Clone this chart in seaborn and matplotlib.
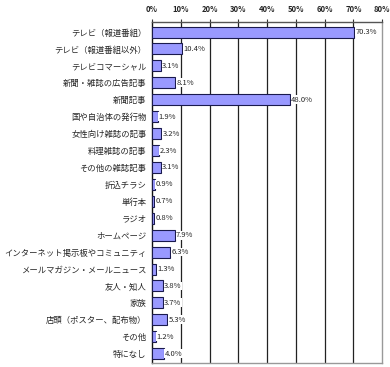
import matplotlib
matplotlib.use("Agg")
import matplotlib.pyplot as plt
import seaborn as sns
import pandas as pd

# データ
categories = [
    "テレビ（報道番組）", "テレビ（報道番組以外）", "テレビコマーシャル",
    "新聞・雑誌の広告記事", "新聞記事", "国や自治体の発行物",
    "女性向け雑誌の記事", "料理雑誌の記事", "その他の雑誌記事",
    "折込チラシ", "単行本", "ラジオ", "ホームページ",
    "インターネット掲示板やコミュニティ", "メールマガジン・メールニュース",
    "友人・知人", "家族", "店頭（ポスター、配布物）", "その他", "特になし",
]
values = [70.3, 10.4, 3.1, 8.1, 48.0, 1.9, 3.2, 2.3, 3.1, 0.9,
          0.7, 0.8, 7.9, 6.3, 1.3, 3.8, 3.7, 5.3, 1.2, 4.0]
ticks = [0, 10, 20, 30, 40, 50, 60, 70, 80]

df = pd.DataFrame({"media": categories, "pct": values})

sns.set_style("white")
plt.rcParams["font.family"] = ["Noto Sans CJK JP", "DejaVu Sans"]

fig = plt.figure(figsize=(3.9, 3.67), dpi=100)
ax = fig.add_axes([0.390, 0.011, 0.590, 0.928])

sns.barplot(data=df, y="media", x="pct", orient="h", color="#9999ff",
            edgecolor="#1a1a4d", linewidth=0.8, width=0.65, saturation=1,
            ax=ax, zorder=3)

for i, v in enumerate(values):
    ax.text(v + 0.4, i, f"{v:.1f}%", va="center", ha="left",
            fontsize=5.5, zorder=4,
            bbox=dict(facecolor="white", edgecolor="none", pad=0.3))

ax.set_xlim(0, 80)
ax.set_ylim(19.55, -0.57)
ax.set_xticks(ticks)
ax.set_xticklabels([f"{t}%" for t in ticks], fontsize=5.5, fontweight="bold")
ax.xaxis.tick_top()
ax.tick_params(axis="x", length=2, pad=4, color="#333333")
ax.tick_params(axis="y", length=0, pad=4, labelsize=6)
ax.set_xlabel("")
ax.set_ylabel("")

for t in ticks[1:-1]:
    ax.axvline(t, color="#222222", linewidth=0.9, zorder=1)

ax.spines["left"].set_color("#111111")
ax.spines["top"].set_color("#555555")
ax.spines["right"].set_color("#999999")
ax.spines["bottom"].set_color("#999999")
for s in ax.spines.values():
    s.set_linewidth(1)

plt.savefig("out.png", dpi=100)
